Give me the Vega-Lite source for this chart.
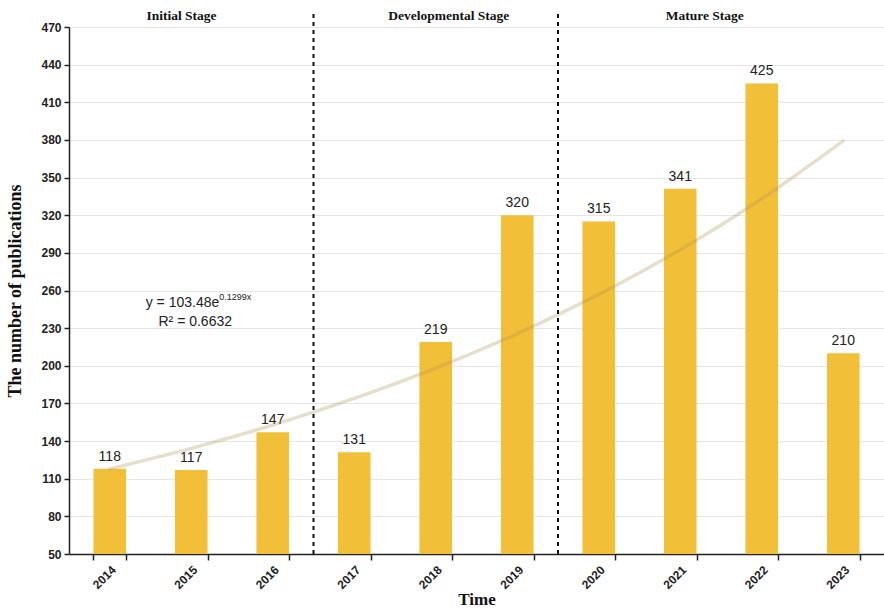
{
  "$schema": "https://vega.github.io/schema/vega-lite/v6.json",
  "width": 815,
  "height": 527,
  "autosize": {"type": "none"},
  "padding": {"left": 69, "top": 27, "right": 0, "bottom": 57},
  "background": "white",
  "config": {
    "view": {"stroke": null},
    "axis": {
      "labelFont": "Liberation Sans",
      "labelFontWeight": "bold",
      "labelFontSize": 12,
      "labelColor": "#222222",
      "labelOverlap": false,
      "titleFont": "Liberation Serif",
      "titleFontWeight": "bold",
      "titleFontSize": 17,
      "titleColor": "#111111",
      "domainColor": "#222222",
      "tickColor": "#222222",
      "domainWidth": 1.5,
      "tickWidth": 1.5
    }
  },
  "datasets": {
    "pubs": [
      {"year": "2014", "count": 118, "trend": 117.83},
      {"year": "2015", "count": 117, "trend": 134.18},
      {"year": "2016", "count": 147, "trend": 152.79},
      {"year": "2017", "count": 131, "trend": 173.98},
      {"year": "2018", "count": 219, "trend": 198.12},
      {"year": "2019", "count": 320, "trend": 225.6},
      {"year": "2020", "count": 315, "trend": 256.89},
      {"year": "2021", "count": 341, "trend": 292.52},
      {"year": "2022", "count": 425, "trend": 333.1},
      {"year": "2023", "count": 210, "trend": 379.3}
    ],
    "boundaries": [{"b": 3}, {"b": 6}],
    "stages": [
      {"stage": "Initial Stage", "pos": 1.38},
      {"stage": "Developmental Stage", "pos": 4.66},
      {"stage": "Mature Stage", "pos": 7.8}
    ],
    "equation": [
      {"year": "2015", "main": "y = 103.48e", "sup": "0.1299x", "r2": "R² = 0.6632", "y1": 250, "y2": 235}
    ]
  },
  "resolve": {"scale": {"x": "independent"}, "axis": {"x": "independent"}},
  "layer": [
    {
      "data": {"name": "pubs"},
      "encoding": {
        "x": {
          "field": "year",
          "type": "ordinal",
          "scale": {"paddingInner": 0.6, "paddingOuter": 0.3, "domain": ["2014","2015","2016","2017","2018","2019","2020","2021","2022","2023"]},
          "axis": {"title": "Time", "labelAngle": -45, "tickBand": "extent", "tickSize": 6, "labelPadding": 4, "titlePadding": 1}
        },
        "y": {
          "type": "quantitative",
          "scale": {"domain": [50, 470], "nice": false, "zero": false},
          "axis": {
            "title": "The number of publications",
            "titleFontSize": 18,
            "values": [50, 80, 110, 140, 170, 200, 230, 260, 290, 320, 350, 380, 410, 440, 470],
            "tickCount": 30,
            "grid": true,
            "gridColor": "#e6e6e6",
            "gridWidth": 1,
            "tickSize": 5,
            "titlePadding": 16,
            "labelPadding": 3
          }
        }
      },
      "layer": [
        {
          "mark": {"type": "bar", "color": "#F2BF38"},
          "encoding": {"y": {"field": "count", "type": "quantitative"}, "y2": {"datum": 50}}
        },
        {
          "mark": {"type": "text", "font": "Liberation Sans", "fontSize": 14, "color": "#222222", "baseline": "bottom", "dy": -5},
          "encoding": {
            "y": {"field": "count", "type": "quantitative"},
            "text": {"field": "count", "type": "quantitative"}
          }
        },
        {
          "mark": {"type": "line", "interpolate": "monotone", "stroke": "#b09656", "strokeWidth": 3.5, "opacity": 0.3, "strokeCap": "round"},
          "encoding": {"y": {"field": "trend", "type": "quantitative"}}
        },
        {
          "data": {"name": "equation"},
          "layer": [
            {
              "mark": {"type": "text", "font": "Liberation Sans", "fontSize": 14, "color": "#222222", "align": "right", "baseline": "middle", "dx": 28},
              "encoding": {"y": {"field": "y1", "type": "quantitative"}, "text": {"field": "main"}}
            },
            {
              "mark": {"type": "text", "font": "Liberation Sans", "fontSize": 9, "color": "#222222", "align": "left", "baseline": "middle", "dx": 28, "dy": -6},
              "encoding": {"y": {"field": "y1", "type": "quantitative"}, "text": {"field": "sup"}}
            },
            {
              "mark": {"type": "text", "font": "Liberation Sans", "fontSize": 14, "color": "#222222", "align": "center", "baseline": "middle", "dx": 4},
              "encoding": {"y": {"field": "y2", "type": "quantitative"}, "text": {"field": "r2"}}
            }
          ]
        }
      ]
    },
    {
      "layer": [
        {
          "data": {"name": "boundaries"},
          "mark": {"type": "rule", "strokeDash": [4, 4], "strokeWidth": 2, "color": "#111111"},
          "encoding": {
            "x": {"field": "b", "type": "quantitative", "scale": {"domain": [0, 10], "nice": false, "zero": false}, "axis": null},
            "y": {"datum": 50, "type": "quantitative"},
            "y2": {"datum": 483}
          }
        },
        {
          "data": {"name": "stages"},
          "mark": {"type": "text", "font": "Liberation Serif", "fontWeight": "bold", "fontSize": 13.5, "color": "#111111", "baseline": "middle"},
          "encoding": {
            "x": {"field": "pos", "type": "quantitative", "scale": {"domain": [0, 10], "nice": false, "zero": false}, "axis": null},
            "y": {"datum": 478.8, "type": "quantitative"},
            "text": {"field": "stage"}
          }
        }
      ]
    }
  ]
}
